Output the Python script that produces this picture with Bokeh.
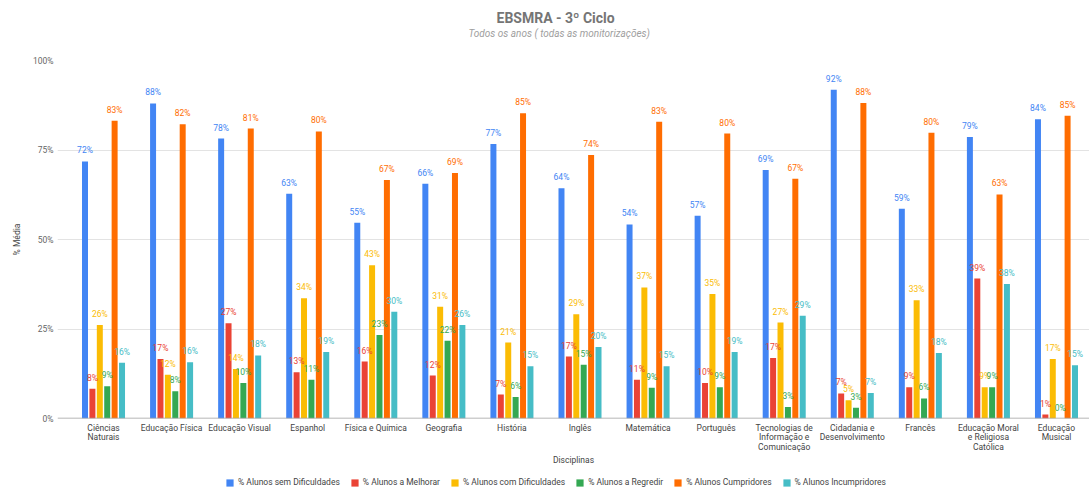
from bokeh.plotting import figure
from bokeh.layouts import column
from bokeh.models import (Range1d, FixedTicker, Legend, LegendItem, Title, Span, ColumnDataSource)
from bokeh.transform import dodge
from bokeh.embed import file_html
from bokeh.resources import INLINE
from bokeh.core.properties import value

disciplinas = ["Ciências Naturais", "Educação Física", "Educação Visual", "Espanhol",
               "Física e Química", "Geografia", "História", "Inglês", "Matemática",
               "Português", "Tecnologias de Informação e Comunicação",
               "Cidadania e Desenvolvimento", "Francês",
               "Educação Moral e Religiosa Católica", "Educação Musical"]
tick_labels = ["Ciências\nNaturais", "Educação Física", "Educação Visual", "Espanhol",
               "Física e Química", "Geografia", "História", "Inglês", "Matemática",
               "Português", "Tecnologias de\nInformação e\nComunicação",
               "Cidadania e\nDesenvolvimento", "Francês",
               "Educação Moral\ne Religiosa\nCatólica", "Educação\nMusical"]
series_names = ["% Alunos sem Dificuldades", "% Alunos a Melhorar", "% Alunos com Dificuldades",
                "% Alunos a Regredir", "% Alunos Cumpridores", "% Alunos Incumpridores"]
series_colors = ["#4285F4", "#EA4335", "#FBBC04", "#34A853", "#FF6D01", "#46BDC6"]

sem_dificuldades = [71.8, 88.0, 78.2, 62.8, 54.7, 65.6, 76.7, 64.3, 54.2, 56.6, 69.4, 91.8, 58.6, 78.6, 83.6]
a_melhorar = [8.3, 16.6, 26.6, 12.9, 15.9, 12.0, 6.7, 17.3, 10.8, 9.9, 16.9, 7.0, 8.7, 39.1, 1.1]
com_dificuldades = [26.1, 12.2, 13.8, 33.6, 42.8, 31.2, 21.2, 29.1, 36.6, 34.8, 26.8, 5.1, 33.0, 8.7, 16.6]
a_regredir = [9.0, 7.6, 9.9, 10.8, 23.3, 21.7, 6.0, 15.0, 8.6, 8.7, 3.2, 3.0, 5.6, 8.7, 0.0]
cumpridores = [83.2, 82.2, 81.0, 80.2, 66.6, 68.6, 85.3, 73.6, 82.9, 79.6, 67.0, 88.1, 79.8, 62.6, 84.6]
incumpridores = [15.6, 15.7, 17.6, 18.6, 29.8, 26.1, 14.6, 20.0, 14.6, 18.6, 28.7, 7.1, 18.3, 37.6, 14.9]
all_series = [sem_dificuldades, a_melhorar, com_dificuldades, a_regredir, cumpridores, incumpridores]

y_ticks = [0, 25, 50, 75, 100]
y_tick_labels = ["0%", "25%", "50%", "75%", "100%"]

FONT = "Roboto"
x_centers = [i + 0.5 for i in range(len(disciplinas))]

p = figure(width=1089, height=467, output_backend="svg", toolbar_location=None,
           x_range=Range1d(-0.176, 14.985), y_range=Range1d(0, 100),
           min_border_left=57, min_border_right=0, min_border_top=60, min_border_bottom=48)
p.outline_line_color = None
p.background_fill_color = "white"

sub = Title(text="Todos os anos ( todas as monitorizações)\n\n", align="left", offset=411,
            vertical_align="top", text_font=FONT, text_font_size="10px", text_font_style="italic",
            text_color="#9e9e9e", standoff=0, text_line_height=0.9)
p.add_layout(sub, "above")
main = Title(text="EBSMRA - 3º Ciclo", align="left", offset=439, vertical_align="bottom",
             text_font=FONT, text_font_size="14px", text_font_style="bold",
             text_color="#757575", standoff=3)
p.add_layout(main, "above")

pitch = 0.1088
bw = 0.088
sources = []
for k, (vals, col) in enumerate(zip(all_series, series_colors)):
    src = ColumnDataSource(dict(x=x_centers, top=vals, label=[f"{round(v)}%" for v in vals]))
    sources.append(src)
    p.vbar(x=dodge("x", (k - 2.5) * pitch), top="top", bottom=0,
           width=bw, source=src, fill_color=col, line_color=None)

for k, (src, col) in enumerate(zip(sources, series_colors)):
    p.text(x=dodge("x", (k - 2.5) * pitch), y="top", text="label", source=src,
           text_align="center", text_baseline="bottom", y_offset=-6,
           text_font=value(FONT), text_font_size="8.5px", text_color=col)

p.add_layout(Span(location=0, dimension="width", line_color="#9e9e9e", line_width=1.5))

p.xgrid.grid_line_color = None
p.ygrid.grid_line_color = "#e3e3e3"
p.ygrid.ticker = FixedTicker(ticks=y_ticks)

xa = p.xaxis[0]
xa.ticker = FixedTicker(ticks=x_centers)
xa.major_label_overrides = {x: t for x, t in zip(x_centers, tick_labels)}
xa.axis_line_color = None
xa.major_tick_line_color = None
xa.major_tick_out = 0
xa.major_tick_in = 0
xa.minor_tick_line_color = None
xa.major_label_standoff = 4
xa.major_label_text_font = FONT
xa.major_label_text_font_size = "8.5px"
xa.major_label_text_line_height = 0.95
xa.major_label_text_color = "#444444"
xa.axis_label = "Disciplinas"
xa.axis_label_text_font = FONT
xa.axis_label_text_font_size = "8.5px"
xa.axis_label_text_font_style = "normal"
xa.axis_label_text_color = "#444444"
xa.axis_label_standoff = 0

ya = p.yaxis[0]
ya.ticker = FixedTicker(ticks=y_ticks)
ya.major_label_overrides = {t: l for t, l in zip(y_ticks, y_tick_labels)}
ya.axis_line_color = None
ya.major_tick_line_color = None
ya.major_tick_out = 0
ya.major_tick_in = 0
ya.minor_tick_line_color = None
ya.major_label_standoff = 4
ya.major_label_text_font = FONT
ya.major_label_text_font_size = "8.5px"
ya.major_label_text_color = "#666666"
ya.axis_label = "% Média"
ya.axis_label_text_font = FONT
ya.axis_label_text_font_size = "8.5px"
ya.axis_label_text_font_style = "normal"
ya.axis_label_text_color = "#444444"
ya.axis_label_standoff = 8

# Legend strip below the chart (bars there sit outside its visible range)
pl = figure(width=1089, height=20, output_backend="svg", toolbar_location=None,
            x_range=p.x_range, y_range=Range1d(500, 501),
            x_axis_type=None, y_axis_type=None, min_border=0)
pl.outline_line_color = None
pl.grid.visible = False
leg_renderers = []
for k, (src, col) in enumerate(zip(sources, series_colors)):
    r = pl.vbar(x=dodge("x", (k - 2.5) * pitch), top="top", bottom=0,
                width=bw, source=src, fill_color=col, line_color=None)
    leg_renderers.append(r)

legend = Legend(items=[LegendItem(label=n, renderers=[r]) for n, r in zip(series_names, leg_renderers)],
                orientation="horizontal", location=(168, 0),
                glyph_width=9, glyph_height=9, label_standoff=4, spacing=10,
                padding=0, margin=0, border_line_color=None, background_fill_alpha=0,
                label_text_font=FONT, label_text_font_size="8.5px", label_text_color="#444444",
                label_height=9)
pl.add_layout(legend)

layout = column(p, pl, spacing=0)
open("out.html", "w").write(file_html(layout, INLINE))
